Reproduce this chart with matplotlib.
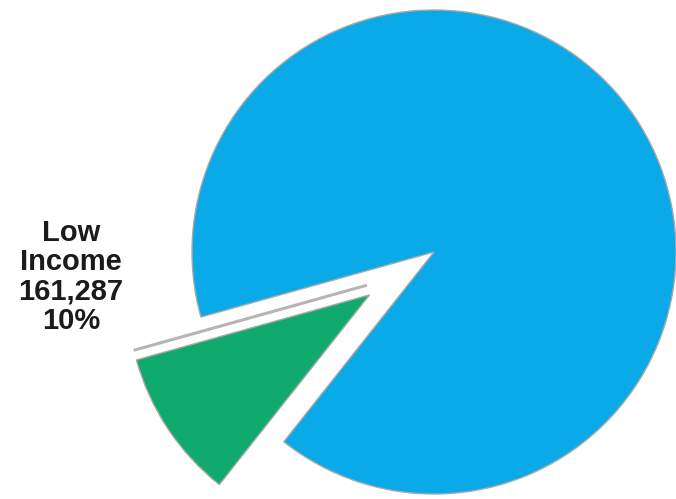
import numpy as np
import matplotlib
matplotlib.use("Agg")
import matplotlib.pyplot as plt

# income groups
labels = ["Low\nIncome", "Other"]
values = [161287, 1450000]
colors = ["#10A96E", "#0AA9E8"]
pull = [0.32, 0]  # fraction of radius

W, H = 676, 499
fig = plt.figure(figsize=(W / 100, H / 100), dpi=100, facecolor="white")
ax = fig.add_axes([0, 0, 1, 1])

cx, cy, r = 434, H - 252, 242
start = 195.6
wedges, _ = ax.pie(values, colors=colors, explode=[p * r for p in pull],
                   startangle=start, center=(cx, cy), radius=r, frame=True,
                   wedgeprops=dict(edgecolor="#a9a9a9", linewidth=1.0))
ax.set_xlim(0, W)
ax.set_ylim(0, H)
ax.set_aspect("equal")
ax.axis("off")

# thin grey band along the upper edge of the pulled-out slice
g = wedges[0]
t1 = np.deg2rad(g.theta1)
tip = np.array(g.center)
end = tip + r * np.array([np.cos(t1), np.sin(t1)])
n = np.array([np.sin(t1), -np.cos(t1)]) * 10
seg = np.vstack([tip + n, end + n])
ax.plot(seg[:, 0], seg[:, 1], color="#b9b3b3", lw=2.2, solid_capstyle="butt")

pct = values[0] / sum(values) * 100
txt = f"{labels[0]}\n{values[0]:,}\n{pct:.0f}%"
ax.text(71, H - 277, txt, ha="center", va="center", multialignment="center",
        fontsize=21, fontweight="bold", family="Liberation Sans",
        color="#1b1b1b", linespacing=1.07)

fig.savefig("out.png", dpi=100, facecolor="white")
